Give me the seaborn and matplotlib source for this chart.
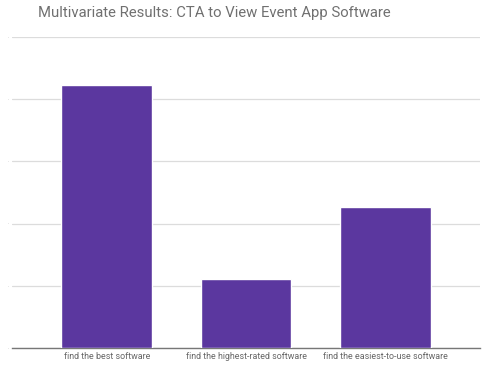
import matplotlib
matplotlib.use("Agg")
import matplotlib.pyplot as plt
import pandas as pd
import seaborn as sns

# valores (escala sin etiquetas visibles)
categories = [
    "find the best software",
    "find the highest-rated software",
    "find the easiest-to-use software",
]
values = [4.22, 1.11, 2.27]
y_ticks = [0, 1, 2, 3, 4, 5]

df = pd.DataFrame({"cta": categories, "value": values})

sns.set_theme(style="white")
plt.rcParams["font.family"] = ["Roboto", "DejaVu Sans"]

fig = plt.figure(figsize=(5, 3.69), dpi=100)
ax = fig.add_axes([0.024, 0.057, 0.936, 0.843])

sns.barplot(data=df, x="cta", y="value", color="#5b379f", saturation=1,
            width=0.65, ax=ax, zorder=3)

ax.set_xlim(-0.68, 2.68)
ax.set_ylim(0, 5)
ax.set_yticks(y_ticks)
ax.set_yticklabels(["·"] * len(y_ticks), fontsize=4, color="#aaaaaa")
ax.tick_params(axis="y", length=0, pad=2)
ax.tick_params(axis="x", length=0, pad=3, labelsize=6.4, colors="#666666")
ax.grid(axis="y", color="#dcdcdc", linewidth=0.9, zorder=0)
for s in ["top", "right", "left"]:
    ax.spines[s].set_visible(False)
ax.spines["bottom"].set_color("#777777")
ax.spines["bottom"].set_linewidth(1.0)
ax.set_xlabel("")
ax.set_ylabel("")

fig.text(0.076, 0.985, "Multivariate Results: CTA to View Event App Software",
         fontsize=10.7, color="#707070", va="top", ha="left")

fig.savefig("out.png", dpi=100)
plt.close(fig)
